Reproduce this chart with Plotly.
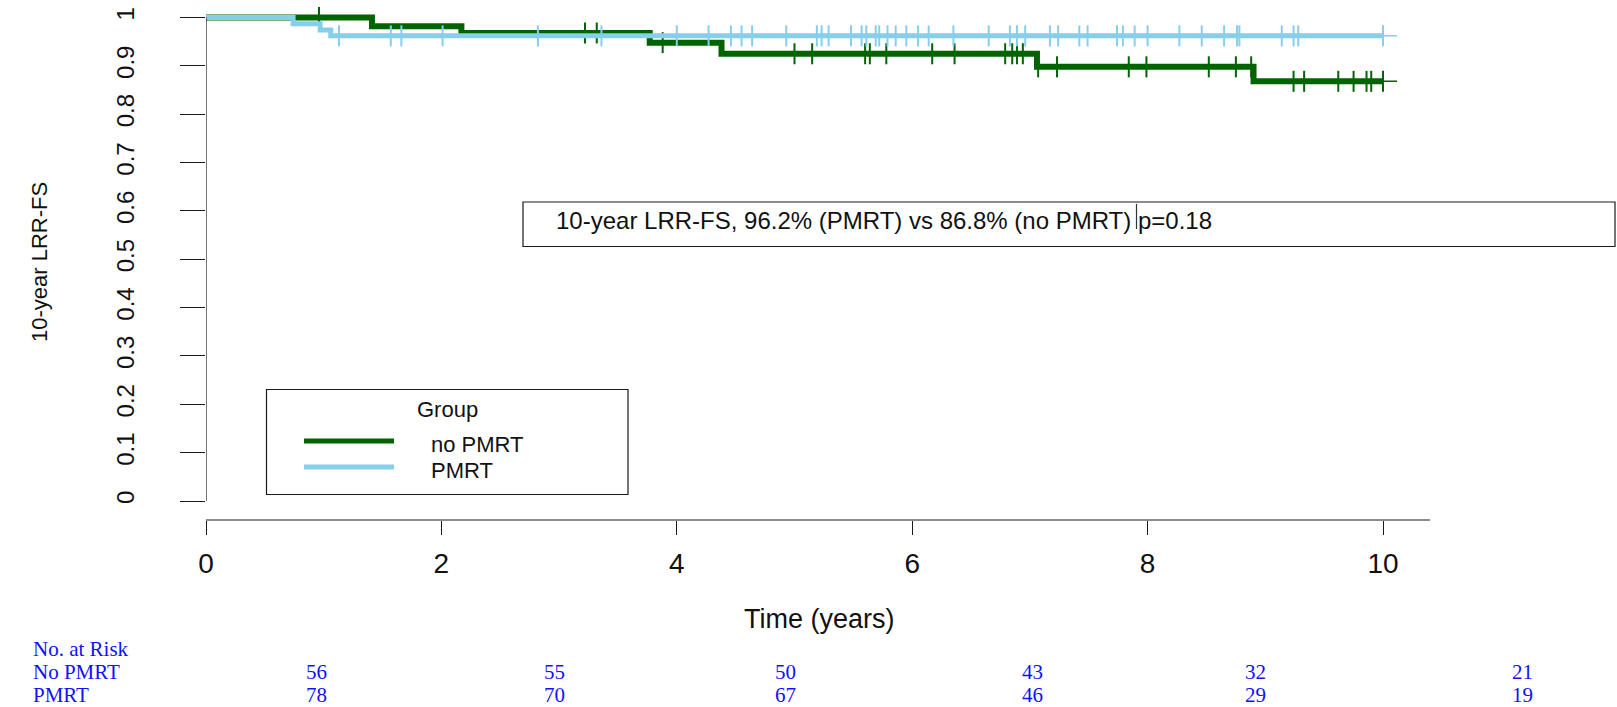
import plotly.graph_objects as go

# ---------------- data ----------------
# Kaplan-Meier steps (time in years, survival after each event)
nopmrt_event_t = [1.41, 2.17, 3.77, 4.38, 7.06, 8.90]
nopmrt_surv = [0.982, 0.968, 0.948, 0.925, 0.898, 0.868]
nopmrt_censor_t = [0.96, 3.22, 3.32, 3.88, 5.00, 5.15, 5.60, 5.64, 5.78, 6.17,
                   6.36, 6.79, 6.85, 6.89, 6.94, 7.07, 7.23, 7.84, 7.99, 8.52,
                   8.75, 8.88, 9.24, 9.33, 9.62, 9.75, 9.86, 9.90, 10.0]

pmrt_event_t = [0.74, 0.97, 1.06]
pmrt_surv = [0.987, 0.974, 0.962]
pmrt_censor_t = [1.13, 1.57, 1.66, 2.01, 2.82, 3.36, 4.00, 4.27, 4.46, 4.55,
                 4.64, 4.93, 5.19, 5.23, 5.29, 5.48, 5.57, 5.61, 5.69, 5.72,
                 5.79, 5.86, 5.95, 6.05, 6.14, 6.35, 6.65, 6.83, 6.89, 6.96,
                 7.17, 7.24, 7.42, 7.49, 7.74, 7.79, 7.89, 8.00, 8.27, 8.46,
                 8.65, 8.76, 8.78, 9.14, 9.24, 9.28, 10.0]

group_names = ["no PMRT", "PMRT"]
x_ticks = [0, 2, 4, 6, 8, 10]
y_ticks = [0, 0.1, 0.2, 0.3, 0.4, 0.5, 0.6, 0.7, 0.8, 0.9, 1]
y_tick_text = ["0", "0.1", "0.2", "0.3", "0.4", "0.5", "0.6", "0.7", "0.8", "0.9", "1"]

risk_row_labels = ["No PMRT", "PMRT"]
nopmrt_at_risk = [56, 55, 50, 43, 32, 21]
pmrt_at_risk = [78, 70, 67, 46, 29, 19]

summary_text = "10-year LRR-FS, 96.2% (PMRT) vs 86.8% (no PMRT) p=0.18"

# ---------------- geometry / styles ----------------
FIG_W, FIG_H = 1617, 707
L, T, B = 206, 0, 187
PLOT_W = FIG_W - L
PLOT_H = FIG_H - T - B
PX_PER_YEAR = 117.7
Y_ZERO_PX, Y_ONE_PX = 501.0, 17.5
PX_PER_UNIT = Y_ZERO_PX - Y_ONE_PX
X_MAX = PLOT_W / PX_PER_YEAR
Y_LO = -(T + PLOT_H - Y_ZERO_PX) / PX_PER_UNIT
Y_HI = 1 + (Y_ONE_PX - T) / PX_PER_UNIT

GREEN = "#006400"
BLUE = "#87CEEB"
INK = "#1a1a1a"
SANS = "Liberation Sans, Arial, sans-serif"
SERIF = "Liberation Serif, Times New Roman, serif"
RISK_BLUE = "#1010ff"
RISK_SIZE = 21
LEGEND_SIZE = 22

risk_col_px = [316.6, 554.8, 785.8, 1032, 1255, 1522]
risk_row_px = [649, 672, 695]


def dx(p):
    return (p - L) / PX_PER_YEAR


def dy(p):
    return (Y_ZERO_PX - p) / PX_PER_UNIT


def paper_x(p):
    return (p - L) / PLOT_W


def paper_y(p):
    return (T + PLOT_H - p) / PLOT_H


def step_xy(times, surv, end):
    return [0] + list(times) + [end], [1] + list(surv) + [surv[-1]]


def level_at(t, times, surv):
    s = 1.0
    for e, v in zip(times, surv):
        if e <= t:
            s = v
    return s


fig = go.Figure()

for times, surv, cens, color, wide in [
    (nopmrt_event_t, nopmrt_surv, nopmrt_censor_t, GREEN, 6),
    (pmrt_event_t, pmrt_surv, pmrt_censor_t, BLUE, 5),
]:
    # thin underlying curve that runs slightly past 10 years
    xs, ys = step_xy(times, surv, 10.12)
    fig.add_trace(go.Scatter(x=xs, y=ys, mode="lines", line=dict(color=color, width=1.5, shape="hv"),
                             showlegend=False, hoverinfo="skip"))
    xs, ys = step_xy(times, surv, 10.0)
    fig.add_trace(go.Scatter(x=xs, y=ys, mode="lines", line=dict(color=color, width=wide, shape="hv"),
                             showlegend=False))
    fig.add_trace(go.Scatter(
        x=cens, y=[level_at(t, times, surv) for t in cens], mode="markers",
        marker=dict(symbol="line-ns", size=15, line=dict(color=color, width=2)),
        showlegend=False))

shapes = [
    # y axis line (0..1)
    dict(type="line", xref="x", yref="y", x0=0, x1=0, y0=0, y1=1, line=dict(color=INK, width=1.2)),
    # x axis line
    dict(type="line", xref="x", yref="paper", x0=0, x1=10.4, y0=0, y1=0, line=dict(color=INK, width=1.2)),
    # summary box
    dict(type="rect", xref="x", yref="y", x0=dx(523), x1=dx(1615), y0=dy(202), y1=dy(246.5),
         line=dict(color=INK, width=1.2)),
    dict(type="line", xref="x", yref="y", x0=dx(1136.5), x1=dx(1136.5), y0=dy(204), y1=dy(229),
         line=dict(color="#333333", width=1.2)),
    # legend box
    dict(type="rect", xref="x", yref="y", x0=dx(266.5), x1=dx(628), y0=dy(389.5), y1=dy(494.5),
         line=dict(color=INK, width=1.2)),
    dict(type="line", xref="x", yref="y", x0=dx(304), x1=dx(394), y0=dy(441), y1=dy(441),
         line=dict(color=GREEN, width=5)),
    dict(type="line", xref="x", yref="y", x0=dx(304), x1=dx(394), y0=dy(467), y1=dy(467),
         line=dict(color=BLUE, width=5)),
]

annotations = [
    dict(text=summary_text, xref="x", yref="y", x=dx(554), y=dy(220), xanchor="left", yanchor="middle",
         showarrow=False, font=dict(family=SANS, size=24, color="#111")),
    dict(text="Group", xref="x", yref="y", x=dx(447.5), y=dy(409), xanchor="center", yanchor="middle",
         showarrow=False, font=dict(family=SANS, size=LEGEND_SIZE, color="#111")),
    dict(text=group_names[0], xref="x", yref="y", x=dx(428.6), y=dy(444), xanchor="left", yanchor="middle",
         showarrow=False, font=dict(family=SANS, size=LEGEND_SIZE, color="#111")),
    dict(text=group_names[1], xref="x", yref="y", x=dx(428.6), y=dy(470), xanchor="left", yanchor="middle",
         showarrow=False, font=dict(family=SANS, size=LEGEND_SIZE, color="#111")),
    dict(text="Time (years)", xref="paper", yref="paper", x=paper_x(819), y=paper_y(619),
         xanchor="center", yanchor="middle", showarrow=False, font=dict(family=SANS, size=27, color="#111")),
    dict(text="10-year LRR-FS", xref="paper", yref="paper", x=paper_x(39), y=paper_y(262), textangle=-90,
         xanchor="center", yanchor="middle", showarrow=False, font=dict(family=SANS, size=22, color="#111")),
    dict(text="No. at Risk", xref="paper", yref="paper", x=paper_x(31), y=paper_y(risk_row_px[0]),
         xanchor="left", yanchor="middle", showarrow=False,
         font=dict(family=SERIF, size=RISK_SIZE, color=RISK_BLUE)),
]
for row_label, counts, row_px in [(risk_row_labels[0], nopmrt_at_risk, risk_row_px[1]),
                                  (risk_row_labels[1], pmrt_at_risk, risk_row_px[2])]:
    annotations.append(dict(text=row_label, xref="paper", yref="paper", x=paper_x(31), y=paper_y(row_px),
                            xanchor="left", yanchor="middle", showarrow=False,
                            font=dict(family=SERIF, size=RISK_SIZE, color=RISK_BLUE)))
    for n, cx in zip(counts, risk_col_px):
        annotations.append(dict(text=str(n), xref="paper", yref="paper", x=paper_x(cx), y=paper_y(row_px),
                                xanchor="center", yanchor="middle", showarrow=False,
                                font=dict(family=SERIF, size=RISK_SIZE, color=RISK_BLUE)))

fig.update_layout(
    width=FIG_W, height=FIG_H,
    margin=dict(l=L, r=0, t=T, b=B),
    paper_bgcolor="white", plot_bgcolor="white",
    showlegend=False,
    shapes=shapes, annotations=annotations,
    xaxis=dict(range=[0, X_MAX], tickvals=x_ticks, ticks="outside", ticklen=14, tickwidth=1.2,
               tickcolor=INK, showline=False, showgrid=False, zeroline=False,
               tickfont=dict(family=SANS, size=28, color="#111"), ticklabelstandoff=4),
    yaxis=dict(range=[Y_LO, Y_HI], tickvals=y_ticks, ticktext=y_tick_text, ticks="outside", ticklen=25,
               tickwidth=1.2, tickcolor=INK, showline=False, showgrid=False, zeroline=False, tickangle=-90,
               tickfont=dict(family=SANS, size=24, color="#111"), ticklabelstandoff=36),
)

fig.write_html("out.html")
